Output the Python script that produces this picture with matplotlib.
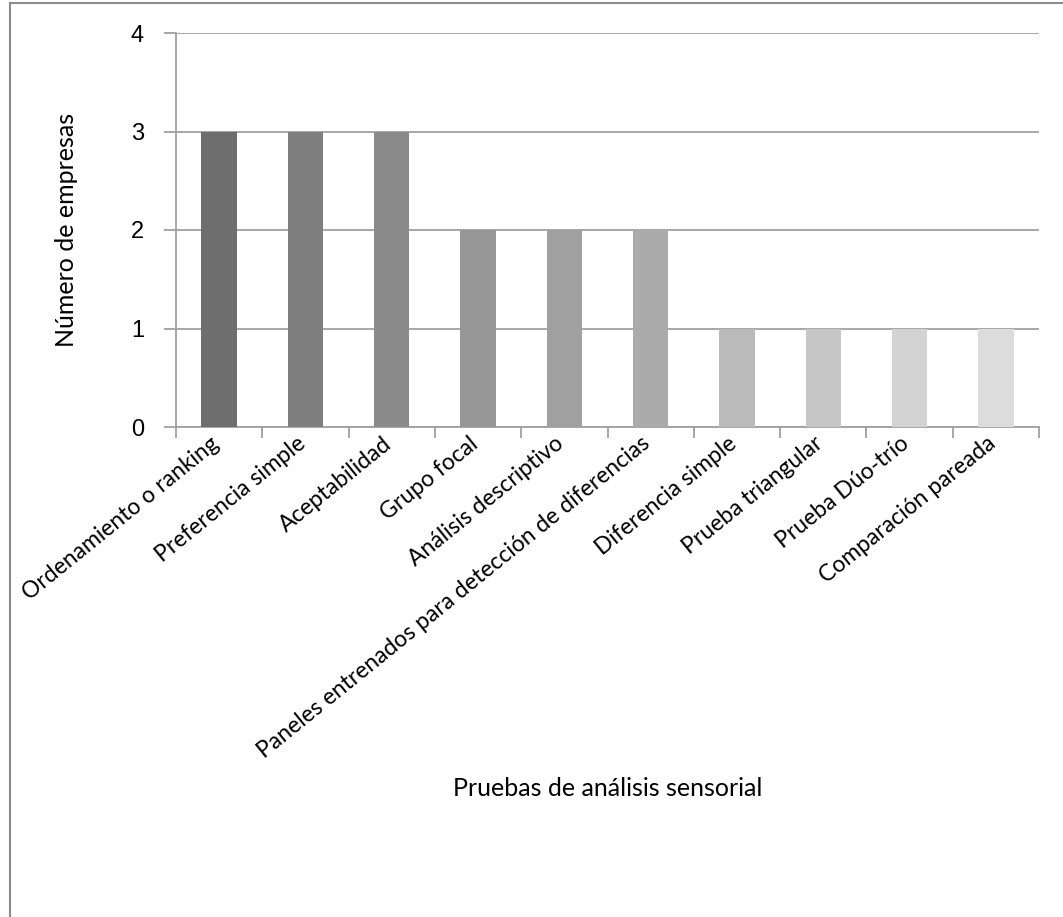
import numpy as np
import matplotlib
matplotlib.use("Agg")
import matplotlib.pyplot as plt
from matplotlib.lines import Line2D

# Sensory tests reported by the companies
pruebas = ["Ordenamiento o ranking", "Preferencia simple", "Aceptabilidad",
           "Grupo focal", "Análisis descriptivo",
           "Paneles entrenados para detección de diferencias",
           "Diferencia simple", "Prueba triangular", "Prueba Dúo-trío",
           "Comparación pareada"]
empresas = [3, 3, 3, 2, 2, 2, 1, 1, 1, 1]
grises = ["#6e6e6e", "#7f7f7f", "#8a8a8a", "#969696", "#a0a0a0",
          "#ababab", "#bababa", "#c6c6c6", "#d3d3d3", "#dcdcdc"]
y_ticks = [0, 1, 2, 3, 4]

plt.rcParams['font.family'] = ['Lato', 'DejaVu Sans']

W, H = 1063, 917
fig = plt.figure(figsize=(W / 100, H / 100), dpi=100)
# axes box in pixels: left 176, right 1039, top 33, bottom 427
ax = fig.add_axes([176 / W, 1 - 427 / H, (1039 - 176) / W, (427 - 33) / H])

x = np.arange(len(pruebas))
ax.bar(x, empresas, width=0.41, color=grises, zorder=3)

ax.set_xlim(-0.5, len(pruebas) - 0.5)
ax.set_ylim(0, 4)
ax.set_yticks(y_ticks)
ax.yaxis.grid(True, color="#a0a0a0", linewidth=1.3, zorder=0)

for s in ["top", "right"]:
    ax.spines[s].set_visible(False)
for s in ["left", "bottom"]:
    ax.spines[s].set_color("#a0a0a0")
    ax.spines[s].set_linewidth(1.3)

# category boundary ticks on the x axis
ax.set_xticks(np.arange(-0.5, len(pruebas), 1.0))
ax.set_xticklabels([])
ax.tick_params(axis="x", length=8, width=1.3, color="#a0a0a0", direction="out")
ax.tick_params(axis="y", length=9, width=1.3, color="#a0a0a0", labelsize=17, pad=14)
for t in ax.get_yticklabels():
    t.set_family(["Liberation Sans", "DejaVu Sans"])

# slanted category names, right end tucked under each bar
for xi, lab in zip(x, pruebas):
    ax.annotate(lab, xy=(xi, 0), xycoords="data", xytext=(-3, -14),
                textcoords="offset pixels", rotation=39, rotation_mode="anchor",
                ha="right", va="center", fontsize=16.5, color="black")

ax.set_ylabel("Número de empresas", fontsize=18, labelpad=38)
fig.text(608 / W, 1 - 788 / H, "Pruebas de análisis sensorial",
         ha="center", va="center", fontsize=18)

# outer chart frame
fig.add_artist(Line2D([10 / W, 10 / W], [0, 1 - 3 / H], transform=fig.transFigure,
                      color="#8c8c8c", linewidth=1.5))
fig.add_artist(Line2D([10 / W, 1], [1 - 3 / H, 1 - 3 / H], transform=fig.transFigure,
                      color="#8c8c8c", linewidth=1.5))

fig.savefig("out.png", dpi=100, facecolor="white")
